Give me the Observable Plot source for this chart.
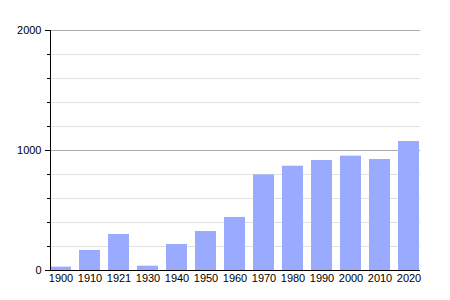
<!DOCTYPE html>
<html>
<head>
<meta charset="utf-8">
<script src="https://cdn.jsdelivr.net/npm/d3@7"></script>
<script src="https://cdn.jsdelivr.net/npm/@observablehq/plot@0.6"></script>
<style>
  html, body { margin: 0; padding: 0; background: #fff; }
</style>
</head>
<body>
<div id="chart"></div>
<script>
const years = ["1900","1910","1921","1930","1940","1950","1960","1970","1980","1990","2000","2010","2020"];
const population = [28, 167, 300, 36, 217, 325, 442, 797, 869, 917, 953, 925, 1075];
const majorTicks = [0, 1000, 2000];
const minorTicks = [200, 400, 600, 800, 1200, 1400, 1600, 1800];

const data = years.map((y, i) => ({year: y, value: population[i]}));

const chart = Plot.plot({
  width: 450,
  height: 300,
  marginLeft: 50,
  marginRight: 30,
  marginTop: 30,
  marginBottom: 30,
  style: {fontFamily: "Liberation Sans, Arial, sans-serif", fontSize: "11px", color: "#000", background: "#fff"},
  x: {type: "band", domain: years, paddingInner: 0.27, paddingOuter: 0, align: 0, label: null},
  y: {domain: [0, 2000], label: null},
  marks: [
    Plot.ruleY(minorTicks, {stroke: "#e2e2e2", strokeOpacity: 1}),
    Plot.ruleY(majorTicks, {stroke: "#aaaaaa", strokeOpacity: 1}),
    Plot.barY(data, {x: "year", y: "value", fill: "#99aaff"}),
    Plot.axisY(minorTicks, {tickSize: 3, tickFormat: () => "", stroke: "#000"}),
    Plot.axisY(majorTicks, {tickSize: 5, tickPadding: 4, tickFormat: d => String(d), fill: "#000", fontSize: 11}),
    Plot.axisX({tickSize: 0, tickPadding: 4, fill: "#000", fontSize: 11}),
    Plot.ruleY([0], {stroke: "#000"}),
    Plot.frame({anchor: "left", stroke: "#000", strokeOpacity: 1})
  ]
});
document.getElementById("chart").appendChild(chart);
</script>
</body>
</html>
